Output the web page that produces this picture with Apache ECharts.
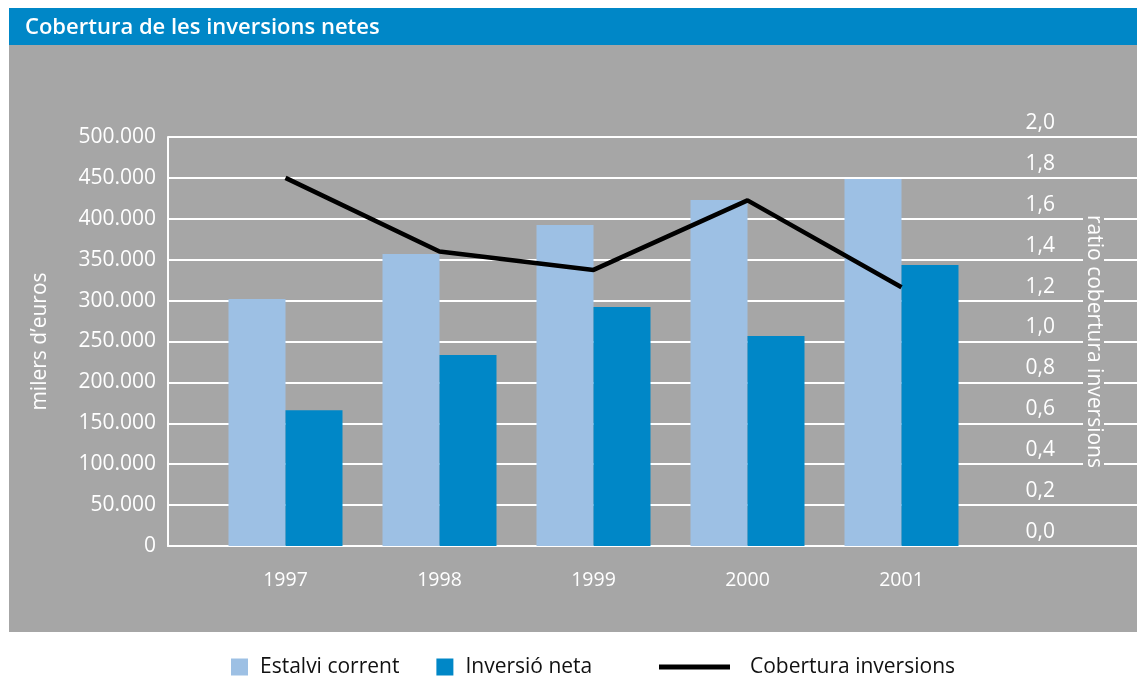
<!DOCTYPE html>
<html><head><meta charset="utf-8">
<script src="https://cdn.jsdelivr.net/npm/echarts@6/dist/echarts.min.js"></script>
<style>html,body{margin:0;padding:0;background:#fff}#c{width:1137px;height:676px}</style>
</head><body><div id="c"></div>
<script>
const years = ['1997','1998','1999','2000','2001'];
const estalviCorrent = [302000, 357000, 392500, 423000, 448600];
const inversioNeta = [166000, 233500, 292200, 256700, 343500];
const coberturaInversions = [1.80, 1.44, 1.35, 1.69, 1.265];
const leftTicks = {min: 0, max: 500000, interval: 50000};
const rightTicks = {min: 0, max: 2, interval: 0.2};

const GRAY = '#a6a6a6', BLUE = '#0087c7', LIGHT = '#9dc0e4';
const FONT = '"Open Sans", "Noto Sans", sans-serif';

const chart = echarts.init(document.getElementById('c'), null, {renderer: 'canvas'});
chart.setOption({
  backgroundColor: '#ffffff',
  animation: false,
  graphic: [
    {type: 'rect', z: -10, shape: {x: 9, y: 45, width: 1128, height: 587}, style: {fill: GRAY}, silent: true},
    {type: 'rect', z: -10, shape: {x: 9, y: 8, width: 1128, height: 37}, style: {fill: BLUE}, silent: true}
  ],
  title: {
    text: 'Cobertura de les inversions netes',
    left: 20, top: 12,
    textStyle: {color: '#fff', fontFamily: FONT, fontWeight: 600, fontSize: 22}
  },
  legend: [
    {
      data: ['Estalvi corrent', 'Inversió neta'],
      left: 226, top: 651, itemWidth: 17, itemHeight: 17, itemGap: 37,
      icon: 'rect',
      textStyle: {color: '#111', fontFamily: FONT, fontSize: 21, lineHeight: 22, padding: [0, 0, 0, 7]}
    },
    {
      data: ['Cobertura inversions'],
      left: 654, top: 651, itemWidth: 71, itemHeight: 5,
      icon: 'rect',
      textStyle: {color: '#111', fontFamily: FONT, fontSize: 21, lineHeight: 22, padding: [0, 0, 0, 15]}
    }
  ],
  grid: [
    {left: 168, right: 0, top: 137, bottom: 130, outerBoundsMode: 'none', containLabel: false},
    {left: 208.5, right: 158.5, top: 137, bottom: 130, outerBoundsMode: 'none', containLabel: false}
  ],
  xAxis: [
    {gridIndex: 0, type: 'category', data: [''], axisLine: {lineStyle: {color: '#fff', width: 2}},
     axisTick: {show: false}, axisLabel: {show: false}},
    {gridIndex: 1, type: 'category', data: years, axisLine: {show: false}, axisTick: {show: false},
     axisLabel: {color: '#fff', fontFamily: FONT, fontSize: 19.5, margin: 24}}
  ],
  yAxis: [
    {gridIndex: 0, type: 'value', position: 'left', min: leftTicks.min, max: leftTicks.max, interval: leftTicks.interval,
     axisLine: {show: true, lineStyle: {color: '#fff', width: 2}}, axisTick: {show: false},
     splitLine: {lineStyle: {color: '#fff', width: 2}},
     axisLabel: {color: '#fff', fontFamily: FONT, fontSize: 21, margin: 12,
       formatter: v => v === 0 ? '0' : v.toLocaleString('de-DE')},
     name: 'milers d’euros', nameLocation: 'middle', nameGap: 117,
     nameTextStyle: {color: '#fff', fontFamily: FONT, fontSize: 21}},
    {gridIndex: 0, type: 'value', position: 'right', min: rightTicks.min, max: rightTicks.max, interval: rightTicks.interval,
     axisLine: {show: false}, axisTick: {show: false}, splitLine: {show: false},
     axisLabel: {inside: true, margin: 82, color: '#fff', fontFamily: FONT, fontSize: 21,
       verticalAlign: 'bottom', lineHeight: 28,
       formatter: v => v.toFixed(1).replace('.', ',')}},
    {gridIndex: 0, type: 'value', position: 'right', offset: -54, min: rightTicks.min, max: rightTicks.max,
     axisLine: {show: false}, axisTick: {show: false}, splitLine: {show: false}, axisLabel: {show: false},
     name: 'ratio cobertura inversions', nameLocation: 'middle', nameGap: 0, nameRotate: -90,
     nameTextStyle: {color: '#fff', fontFamily: FONT, fontSize: 21, backgroundColor: GRAY, padding: [0, 3]}},
    {gridIndex: 1, type: 'value', min: leftTicks.min, max: leftTicks.max, show: false, splitLine: {show: false}},
    {gridIndex: 1, type: 'value', min: rightTicks.min, max: rightTicks.max, show: false, splitLine: {show: false}}
  ],
  series: [
    {name: 'Estalvi corrent', type: 'bar', xAxisIndex: 1, yAxisIndex: 3, data: estalviCorrent,
     barWidth: 57, barGap: '0%', itemStyle: {color: LIGHT}},
    {name: 'Inversió neta', type: 'bar', xAxisIndex: 1, yAxisIndex: 3, data: inversioNeta,
     barWidth: 57, barGap: '0%', itemStyle: {color: BLUE}},
    {name: 'Cobertura inversions', type: 'line', xAxisIndex: 1, yAxisIndex: 4, data: coberturaInversions,
     symbol: 'none', lineStyle: {color: '#000', width: 4.5}, itemStyle: {color: '#000'}, z: 5}
  ]
});
</script></body></html>
